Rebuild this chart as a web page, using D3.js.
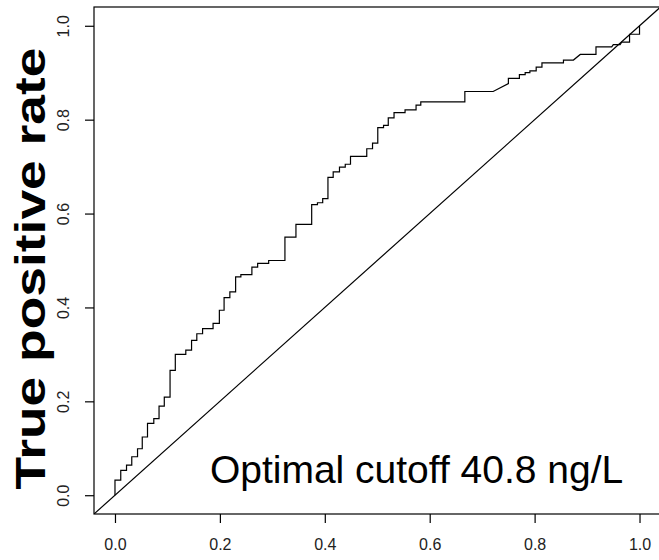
<!DOCTYPE html>
<html lang="en">
<meta charset="utf-8">
<title>ROC curve</title>
<style>
    body { margin: 0; background: white; }
    text { font-family: "Liberation Sans", Arial, sans-serif; }
</style>
<body>
<svg id="canvas"></svg>
<script src="https://cdn.jsdelivr.net/npm/d3@7"></script>
<script>

    ////////////////////// Data ///////////////////////
    // ROC vertices
    var fpr = [0, 0, .011, .011, .022, .022, .032, .032, .043, .043,
               .052, .052, .062, .062, .074, .074, .084, .084, .094, .094,
               .105, .105, .115, .115, .135, .135, .146, .146, .156, .156,
               .167, .167, .187, .187, .199, .199, .208, .208, .219, .219,
               .230, .230, .240, .240, .261, .261, .272, .272, .293, .293,
               .324, .324, .345, .345, .375, .375, .386, .386, .396, .396,
               .406, .406, .416, .416, .428, .428, .439, .439, .449, .449,
               .480, .480, .491, .491, .501, .501, .512, .512, .521, .521,
               .532, .532, .553, .553, .574, .574, .583, .583, .667, .667,
               .721, .750, .750, .771, .771, .782, .782, .791, .791, .803,
               .803, .814, .814, .855, .855, .874, .887, .917, .917, .947,
               .950, .963, .966, .981, .981, 1, 1];
    var tpr = [0, .032, .032, .053, .053, .064, .064, .082, .082, .099,
               .099, .124, .124, .153, .153, .163, .163, .190, .190, .209,
               .209, .266, .266, .300, .300, .309, .309, .330, .330, .344,
               .344, .355, .355, .366, .366, .394, .394, .421, .421, .433,
               .433, .465, .465, .470, .470, .486, .486, .494, .494, .500,
               .500, .550, .550, .577, .577, .619, .619, .623, .623, .632,
               .632, .677, .677, .689, .689, .699, .699, .705, .705, .722,
               .722, .738, .738, .750, .750, .783, .783, .788, .788, .804,
               .804, .815, .815, .821, .821, .831, .831, .838, .838, .860,
               .860, .877, .888, .888, .896, .896, .900, .900, .904, .904,
               .912, .912, .921, .921, .927, .927, .939, .939, .955, .955,
               .960, .960, .965, .965, .982, .982, 1];
    var x_ticks    = [0, 0.2, 0.4, 0.6, 0.8, 1.0];
    var y_ticks    = [0, 0.2, 0.4, 0.6, 0.8, 1.0];
    var y_title    = "True positive rate";
    var note_text  = "Optimal cutoff 40.8 ng/L";
    ///////////////////////////////////////////////////

    ///////// Position and Dimension Variables ////////
    var dimensions = [659, 560];
    var box_left   = 94;
    var box_right  = 660.5;
    var box_top    = 7;
    var box_bottom = 514;
    var tick_len   = 9;
    ///////////////////////////////////////////////////

    ///////////////// Style Variables /////////////////
    var line_color = 'black';
    var line_width = 1.2;
    var tick_font  = 16;
    var title_font = 42;
    var note_font  = 39;
    ///////////////////////////////////////////////////

    var canvas = d3.select("#canvas")
        .attr('width',  dimensions[0])
        .attr('height', dimensions[1])
        .style('background-color', 'white');

    var x = d3.scaleLinear().domain([-0.04, 1.04]).range([box_left, box_right]);
    var y = d3.scaleLinear().domain([-0.04, 1.04]).range([box_bottom, box_top]);

    canvas.append("clipPath").attr('id', 'clip')
        .append("rect")
        .attr('x', box_left).attr('y', box_top)
        .attr('width',  box_right - box_left)
        .attr('height', box_bottom - box_top);

    //////////////////// diagonal /////////////////////
    canvas.append("line")
        .attr('clip-path', 'url(#clip)')
        .attr('x1', x(-0.04)).attr('y1', y(-0.04))
        .attr('x2', x(1.04)).attr('y2', y(1.04))
        .attr('stroke', line_color)
        .attr('stroke-width', line_width);
    ///////////////////////////////////////////////////

    ////////////////////// curve //////////////////////
    var points = d3.zip(fpr, tpr);
    canvas.append("path")
        .datum(points)
        .attr('clip-path', 'url(#clip)')
        .attr('d', d3.line().x(function (d) { return x(d[0]); })
                            .y(function (d) { return y(d[1]); }))
        .attr('fill', 'none')
        .attr('stroke', line_color)
        .attr('stroke-width', line_width)
        .attr('stroke-linejoin', 'miter');
    ///////////////////////////////////////////////////

    /////////////////////// box ///////////////////////
    canvas.append("rect")
        .attr('x', box_left).attr('y', box_top)
        .attr('width',  box_right - box_left)
        .attr('height', box_bottom - box_top)
        .attr('fill', 'none')
        .attr('stroke', line_color)
        .attr('stroke-width', line_width);
    ///////////////////////////////////////////////////

    ////////////////////// axes ///////////////////////
    var x_axis = canvas.append("g")
        .attr('transform', 'translate(0,' + box_bottom + ')')
        .call(d3.axisBottom(x)
                .tickValues(x_ticks)
                .tickFormat(d3.format(".1f"))
                .tickSize(tick_len)
                .tickPadding(16));
    x_axis.select(".domain").remove();
    x_axis.selectAll("line").attr('stroke', line_color).attr('stroke-width', line_width);
    x_axis.selectAll("text")
        .attr('font-size', tick_font)
        .attr('fill', '#222')
        .style('font-family', '"Liberation Sans", Arial, sans-serif');

    var y_axis = canvas.append("g")
        .attr('transform', 'translate(' + box_left + ',0)')
        .call(d3.axisLeft(y)
                .tickValues(y_ticks)
                .tickFormat(d3.format(".1f"))
                .tickSize(tick_len));
    y_axis.select(".domain").remove();
    y_axis.selectAll("line").attr('stroke', line_color).attr('stroke-width', line_width);
    y_axis.selectAll("text")
        .attr('transform', 'rotate(-90)')
        .attr('x', 0)
        .attr('y', -25)
        .attr('dy', 0)
        .attr('text-anchor', 'middle')
        .attr('font-size', tick_font)
        .attr('fill', '#222')
        .style('font-family', '"Liberation Sans", Arial, sans-serif');
    ///////////////////////////////////////////////////

    ///////////////////// labels //////////////////////
    canvas.append("text")
        .attr('transform', 'translate(45,' + ((box_top + box_bottom) / 2 + 8) + ') rotate(-90)')
        .attr('text-anchor', 'middle')
        .attr('font-size', title_font)
        .attr('font-weight', 'bold')
        .attr('textLength', 442)
        .attr('lengthAdjust', 'spacingAndGlyphs')
        .attr('fill', 'black')
        .text(y_title);

    canvas.append("text")
        .attr('x', x(0.575))
        .attr('y', y(0.025))
        .attr('text-anchor', 'middle')
        .attr('font-size', note_font)
        .attr('fill', 'black')
        .text(note_text);
    ///////////////////////////////////////////////////

</script>
</body>
</html>
